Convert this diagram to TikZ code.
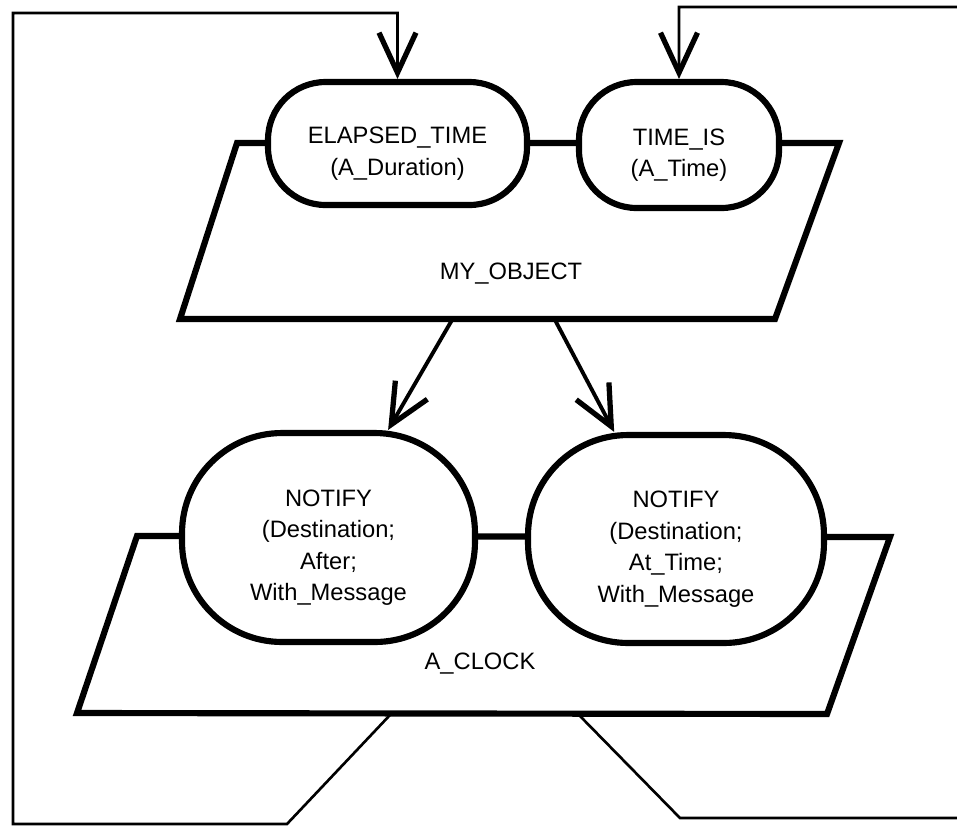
\documentclass[tikz,border=0pt]{standalone}
\usepackage{fontspec}
\setmainfont{Liberation Sans}
\usetikzlibrary{arrows.meta, calc}
\tikzset{
	px/.style={x=0.02cm,y=-0.02cm},
	frame/.style={line width=3.5pt, line join=miter},
	entry/.style={
		rectangle, rounded corners=#1,
		draw=black, line width=3.5pt,
		fill=white,
		inner sep=0pt,
		align=center,
		font=\fontsize{13.5}{18}\selectfont
	},
	objname/.style={inner sep=0pt, font=\fontsize{13.5}{18}\selectfont},
	barb/.style={arrows={-Straight Barb[length=8mm, width=7.4mm, line width=3pt]}},
	call/.style={barb, line width=2.2pt},
	feedback/.style={barb, line width=1.5pt}
}
\begin{document}
\begin{tikzpicture}[px]
	\useasboundingbox (0,0) rectangle (957,826);
	\clip (0,0) rectangle (957,826);

	\coordinate (Aobj) at (237,143);
	\coordinate (Bobj) at (839,143);
	\coordinate (Cobj) at (775,319);
	\coordinate (Dobj) at (180,319);
	\coordinate (Aclk) at (137,536);
	\coordinate (Bclk) at (890,537);
	\coordinate (Cclk) at (827,714);
	\coordinate (Dclk) at (77,713);
	\coordinate (ObjL) at (452,320);
	\coordinate (ObjR) at (555,320);
	\coordinate (ClkL) at (390,715);
	\coordinate (ClkR) at (579,715);

	\draw[frame] (Aobj)--(Bobj)--(Cobj)--(Dobj)--cycle;
	\draw[frame] (Aclk)--(Bclk)--(Cclk)--(Dclk)--cycle;

	\node[entry=1.15cm, minimum width=5.18cm, minimum height=2.46cm] (Elapsed) at (397.5,143.5) {\rule{0pt}{21pt}ELAPSED\_TIME\\(A\_Duration)};
	\node[entry=1.15cm, minimum width=4.0cm, minimum height=2.52cm] (TimeIs) at (679,145) {\rule{0pt}{21pt}TIME\_IS\\(A\_Time)};
	\node[entry=2.0cm, minimum width=5.86cm, minimum height=4.18cm] (NotifyAfter) at (328.5,537.5) {\rule{0pt}{21pt}NOTIFY\\(Destination;\\After;\\With\_Message};
	\node[entry=2.0cm, minimum width=5.92cm, minimum height=4.16cm] (NotifyAt) at (676,539) {\rule{0pt}{21pt}NOTIFY\\(Destination;\\At\_Time;\\With\_Message};

	\node[objname] (ObjName) at (511,274) {MY\_OBJECT};
	\node[objname] (ClkName) at (480,664) {A\_CLOCK};

	\draw[call] (ObjL) -- (NotifyAfter.61);
	\draw[call] (ObjR) -- (NotifyAt.120);

	\draw[feedback] (ClkL) -- (287,824) -| (13,13) -| (Elapsed.north);
	\draw[feedback] (ClkR) -- (680,818) -| (980,7) -| (TimeIs.north);
\end{tikzpicture}
\end{document}
